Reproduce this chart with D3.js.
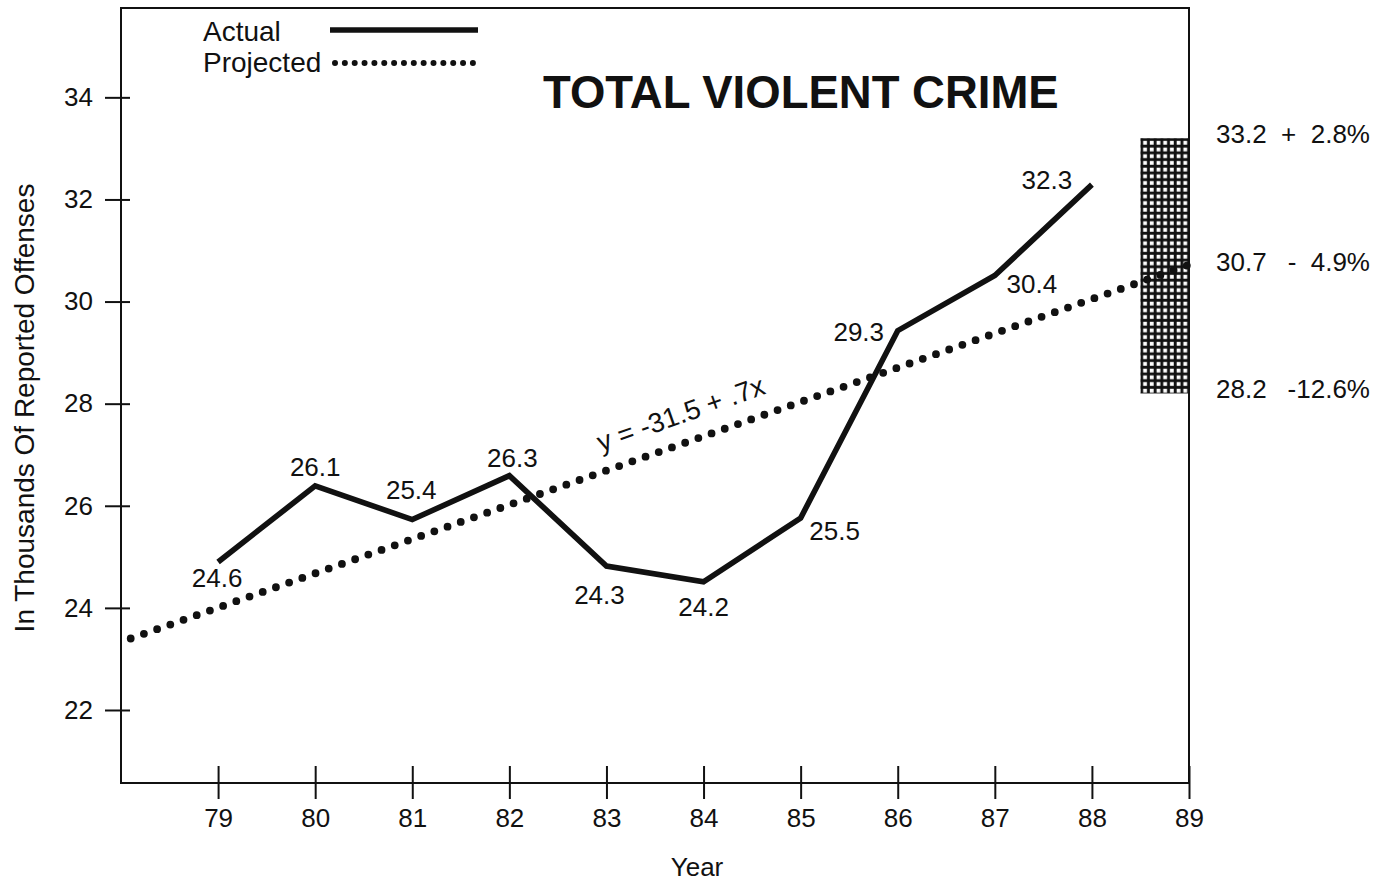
<!DOCTYPE html>
<html>
<head>
<meta charset="utf-8">
<script src="https://cdn.jsdelivr.net/npm/d3@7"></script>
<style>
  html, body { margin: 0; padding: 0; background: #fff; }
  svg { display: block; font-family: "Liberation Sans", Arial, Helvetica, sans-serif; }
  text { fill: #111; }
</style>
</head>
<body>
<svg id="chart" width="1386" height="883"></svg>
<script>
// ---- data ----
const years = [79, 80, 81, 82, 83, 84, 85, 86, 87, 88];
const actualValues = [24.9, 26.39, 25.73, 26.59, 24.82, 24.51, 25.76, 29.43, 30.51, 32.29];
const actualLabels = ["24.6", "26.1", "25.4", "26.3", "24.3", "24.2", "25.5", "29.3", "30.4", "32.3"];
const projectedYears = [78.1, 89];
const projectedValues = [23.4, 30.72];
const xTicks = [79, 80, 81, 82, 83, 84, 85, 86, 87, 88, 89];
const yTicks = [22, 24, 26, 28, 30, 32, 34];
const rangeYears = [88.5, 89];
const rangeValues = [33.2, 30.7, 28.2];
const rangePercents = ["+  2.8%", "-  4.9%", "-12.6%"];
const titleText = "TOTAL VIOLENT CRIME";
const equationText = "y = -31.5 + .7x";
const xTitle = "Year";
const yTitle = "In Thousands Of Reported Offenses";
const legendItems = ["Actual", "Projected"];

// ---- layout (positions kept separate from data) ----
const labelOffsets = [[-1, 25], [0, -10], [-1, -21], [3, -9], [-7, 38], [0, 34], [34, 22], [-39, 10], [37, 17], [-45, 4]];

const svg = d3.select("#chart");
const x = d3.scaleLinear().domain([78, 89]).range([121, 1189]);
const y = d3.scaleLinear().domain([20.57, 35.75]).range([783, 8]);

// hatch pattern
const defs = svg.append("defs");
const pat = defs.append("pattern").attr("id", "hatch").attr("patternUnits", "userSpaceOnUse")
  .attr("width", 6.7).attr("height", 6.7).attr("x", x(rangeYears[0])).attr("y", y(rangeValues[0]));
pat.append("rect").attr("width", 6.7).attr("height", 6.7).attr("fill", "#111");
pat.append("rect").attr("x", 2.7).attr("y", 2.7).attr("width", 3.8).attr("height", 3.8).attr("fill", "#fff");

// range box
svg.append("rect")
  .attr("x", x(rangeYears[0])).attr("y", y(rangeValues[0]))
  .attr("width", x(rangeYears[1]) - x(rangeYears[0]))
  .attr("height", y(rangeValues[2]) - y(rangeValues[0]))
  .attr("fill", "url(#hatch)");

// frame
const [x0, x1] = x.range();
const [yb, yt] = y.range();
svg.append("rect").attr("x", x0).attr("y", yt).attr("width", x1 - x0).attr("height", yb - yt)
  .attr("fill", "none").attr("stroke", "#111").attr("stroke-width", 2);

// y axis ticks + labels
const yAxis = svg.append("g").attr("transform", `translate(${x0},0)`)
  .call(d3.axisLeft(y).tickValues(yTicks).tickFormat(d3.format("d")).tickSize(16).tickPadding(12));
yAxis.select(".domain").remove();
yAxis.selectAll(".tick line").attr("x1", 9).attr("stroke", "#111").attr("stroke-width", 2);
yAxis.selectAll(".tick text").attr("font-size", 26).attr("fill", "#111")
  .attr("font-family", "Liberation Sans, Arial, sans-serif");

// x axis ticks + labels
const xAxis = svg.append("g").attr("transform", `translate(0,${yb})`)
  .call(d3.axisBottom(x).tickValues(xTicks).tickFormat(d3.format("d")).tickSize(16).tickPadding(10));
xAxis.select(".domain").remove();
xAxis.selectAll(".tick line").attr("y1", -17).attr("stroke", "#111").attr("stroke-width", 2);
xAxis.selectAll(".tick text").attr("font-size", 26).attr("fill", "#111")
  .attr("font-family", "Liberation Sans, Arial, sans-serif");

// projected dotted line
const projPts = projectedYears.map((d, i) => [d, projectedValues[i]]);
svg.append("path")
  .attr("d", d3.line().x(d => x(d[0])).y(d => y(d[1]))(projPts))
  .attr("fill", "none").attr("stroke", "#111").attr("stroke-width", 7.8)
  .attr("stroke-linecap", "round").attr("stroke-dasharray", "0 14");

// actual line
const actPts = years.map((d, i) => [d, actualValues[i]]);
svg.append("path")
  .attr("d", d3.line().x(d => x(d[0])).y(d => y(d[1]))(actPts))
  .attr("fill", "none").attr("stroke", "#111").attr("stroke-width", 5.6)
  .attr("stroke-linejoin", "miter").attr("stroke-linecap", "butt");

// data labels
svg.append("g").selectAll("text").data(actPts).join("text")
  .attr("x", (d, i) => x(d[0]) + labelOffsets[i][0])
  .attr("y", (d, i) => y(d[1]) + labelOffsets[i][1])
  .attr("text-anchor", "middle").attr("font-size", 26)
  .text((d, i) => actualLabels[i]);

// equation
const eqAngle = -Math.atan2(y(projectedValues[0]) - y(projectedValues[1]), x(projectedYears[1]) - x(projectedYears[0])) * 180 / Math.PI;
svg.append("text")
  .attr("transform", `translate(601,452) rotate(${eqAngle})`)
  .attr("font-size", 27.5).text(equationText);

// range labels
const rg = svg.append("g");
rg.selectAll("text.v").data(rangeValues).join("text").attr("class", "v")
  .attr("x", 1216).attr("y", d => y(d) + 5).attr("font-size", 26)
  .text(d => d.toFixed(1));
rg.selectAll("text.p").data(rangePercents).join("text").attr("class", "p")
  .attr("x", 1370).attr("y", (d, i) => y(rangeValues[i]) + 5).attr("font-size", 26)
  .attr("text-anchor", "end").style("white-space", "pre")
  .text(d => d);

// title
svg.append("text").attr("x", 543).attr("y", 108)
  .attr("font-size", 45.5).attr("font-weight", "bold").text(titleText);

// legend
svg.append("text").attr("x", 203).attr("y", 41).attr("font-size", 28).text(legendItems[0]);
svg.append("text").attr("x", 203).attr("y", 72).attr("font-size", 28).text(legendItems[1]);
svg.append("line").attr("x1", 330).attr("x2", 478).attr("y1", 30).attr("y2", 30)
  .attr("stroke", "#111").attr("stroke-width", 5.5);
svg.append("line").attr("x1", 335).attr("x2", 473).attr("y1", 63).attr("y2", 63)
  .attr("stroke", "#111").attr("stroke-width", 6)
  .attr("stroke-linecap", "round").attr("stroke-dasharray", "0 9.85");

// axis titles
svg.append("text").attr("x", 697).attr("y", 876).attr("text-anchor", "middle")
  .attr("font-size", 26).text(xTitle);
svg.append("text").attr("transform", "translate(34,408) rotate(-90)")
  .attr("text-anchor", "middle").attr("font-size", 28).text(yTitle);
</script>
</body>
</html>
